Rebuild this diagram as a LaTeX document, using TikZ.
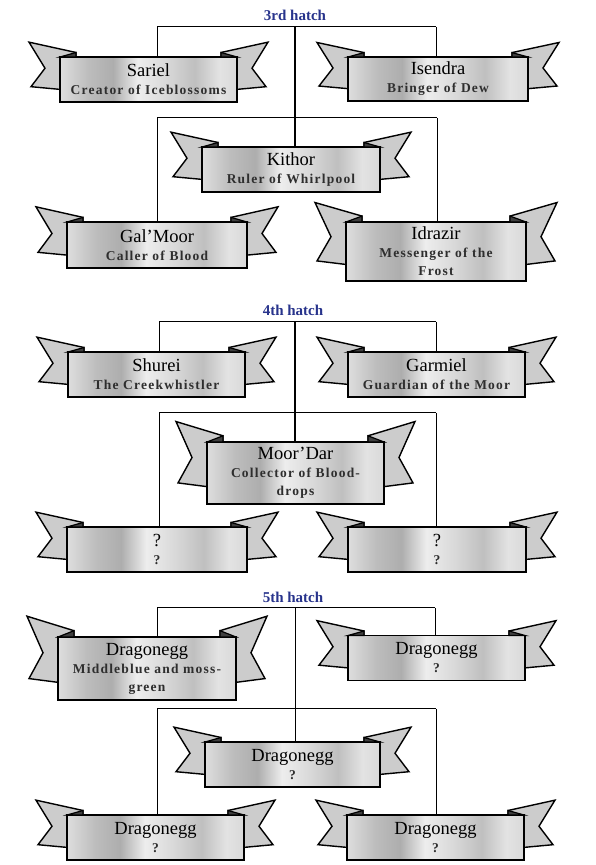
\documentclass[tikz,border=0pt]{standalone}
\usepackage{fontspec}
\setmainfont{Liberation Serif}
\newfontfamily\bnSubFont[LetterSpace=9]{Liberation Serif}
\usetikzlibrary{calc}
\pgfdeclarelayer{back}
\pgfsetlayers{back,main}
\pgfdeclarehorizontalshading{metal}{100bp}{rgb(0bp)=(.87,.87,.87); rgb(25bp)=(.87,.87,.87); rgb(33bp)=(.74,.74,.74); rgb(40bp)=(.68,.68,.68); rgb(47bp)=(.93,.93,.93); rgb(55bp)=(.85,.85,.85); rgb(63bp)=(.75,.75,.75); rgb(70bp)=(.89,.89,.89); rgb(75bp)=(.85,.85,.85); rgb(100bp)=(.85,.85,.85)}
\definecolor{hatchblue}{RGB}{40,52,140}
\newcommand\bnName[1]{{\fontsize{18.5}{18}\selectfont #1}}
\newcommand\bnSub[1]{{\color{black!82}\bnSubFont\bfseries\fontsize{13.5}{18}\selectfont #1}}
\newcommand\bnTail[2]{%
  \path[bntail] ({-#1-31},{#2/2+0.33*#2}) -- ({-#1+16},{#2/2+0.1*#2}) -- ({-#1+16},{#2/2-0.72*#2}) -- ({-#1},{#2/2-0.72*#2}) -- ({-#1-29},{#2/2-0.66*#2}) -- ({-#1-15},{#2/2-0.25*#2}) -- cycle;}
\newcommand\bnFold[2]{%
  \path[bnfold] ({-#1},{#2/2}) -- ({-#1+16},{#2/2+0.1*#2}) -- ({-#1+16},{#2/2}) -- cycle;}
\newcommand\banner[6]{%
  \begin{scope}[shift={(#2,{865-#3})}]
    \bnTail{#4/2}{#5}
    \begin{scope}[xscale=-1]\bnTail{#4/2}{#5}\end{scope}
    \node[bnbox, minimum width=#4pt, minimum height=#5pt] (#1) at (0,0) {#6};
    \bnFold{#4/2}{#5}
    \begin{scope}[xscale=-1]\bnFold{#4/2}{#5}\end{scope}
  \end{scope}}
\begin{document}
\begin{tikzpicture}[x=1pt,y=1pt,
  bntail/.style={draw=black, fill=black!20, line width=1.4pt, line join=miter},
  bnfold/.style={draw=black, fill=black!75, line width=1.2pt, line join=miter},
  bnbox/.style={draw=black, line width=1.8pt, shade, shading=metal, align=center, inner sep=0pt, font=\fontsize{13.5}{18}\selectfont},
  hatchtitle/.style={text=hatchblue, font=\fontsize{15}{16}\selectfont\bfseries, inner sep=1pt},
  conn/.style={draw=black, line width=1pt},
  trunk/.style={draw=black, line width=1.7pt}]
\useasboundingbox (0,0) rectangle (596,865);

% ---------- 3rd hatch ----------
\node[hatchtitle] (t3) at (295,850) {3rd hatch};
\banner{sariel}{148.5}{79.5}{177}{45}{\bnName{Sariel}\\\bnSub{Creator of Iceblossoms}}
\banner{isendra}{438}{79}{180}{44}{\bnName{Isendra}\\\bnSub{Bringer of Dew}}
\banner{kithor}{291}{169.5}{178}{45}{\bnName{Kithor}\\\bnSub{Ruler of Whirlpool}}
\banner{galmoor}{157}{245}{180}{46}{\bnName{Gal'Moor}\\\bnSub{Caller of Blood}}
\banner{idrazir}{436}{251.5}{180}{59}{\bnName{Idrazir}\\\bnSub{Messenger of the}\\\bnSub{Frost}}

% ---------- 4th hatch ----------
\node[hatchtitle] (t4) at (293,555) {4th hatch};
\banner{shurei}{156.5}{374.5}{177}{45}{\bnName{Shurei}\\\bnSub{The Creekwhistler}}
\banner{garmiel}{436.5}{374.5}{177}{45}{\bnName{Garmiel}\\\bnSub{Guardian of the Moor}}
\banner{moordar}{295.5}{473}{177}{62}{\bnName{Moor'Dar}\\\bnSub{Collector of Blood-}\\\bnSub{drops}}
\banner{qa}{157}{549.5}{180}{45}{\bnName{?}\\\bnSub{?}}
\banner{qb}{437}{549.5}{178}{45}{\bnName{?}\\\bnSub{?}}

% ---------- 5th hatch ----------
\node[hatchtitle] (t5) at (293,268) {5th hatch};
\banner{dleft}{147}{668.5}{178}{63}{\bnName{Dragonegg}\\\bnSub{Middleblue and moss-}\\\bnSub{green}}
\banner{dright}{436.5}{658}{177}{45}{\bnName{Dragonegg}\\\bnSub{?}}
\banner{dmid}{292.5}{764.5}{175}{45}{\bnName{Dragonegg}\\\bnSub{?}}
\banner{dbl}{155.5}{837.5}{177}{45}{\bnName{Dragonegg}\\\bnSub{?}}
\banner{dbr}{435.5}{837.5}{177}{45}{\bnName{Dragonegg}\\\bnSub{?}}

\begin{pgfonlayer}{back}
  \fill[white] (0,0) rectangle (596,865);
  % 3rd hatch connectors
  \coordinate (a3l) at (157,838); \coordinate (a3c) at (295,838); \coordinate (a3r) at (436,838);
  \coordinate (b3l) at (157,747); \coordinate (b3r) at (437,747);
  \draw[conn] (a3l) -- (a3r);
  \draw[conn] (a3l) -- (a3l |- sariel.north);
  \draw[conn] (a3r) -- (a3r |- isendra.north);
  \draw[trunk] (a3c) -- (a3c |- kithor.north);
  \draw[conn] (b3l) -- (b3r);
  \draw[conn] (b3l) -- (b3l |- galmoor.north);
  \draw[conn] (b3r) -- (b3r |- idrazir.north);
  % 4th hatch connectors
  \coordinate (a4l) at (159,543); \coordinate (a4c) at (295,543); \coordinate (a4r) at (436,543);
  \coordinate (b4l) at (159,452); \coordinate (b4r) at (436,452);
  \draw[conn] (a4l) -- (a4r);
  \draw[conn] (a4l) -- (a4l |- shurei.north);
  \draw[conn] (a4r) -- (a4r |- garmiel.north);
  \draw[trunk] (a4c) -- (a4c |- moordar.north);
  \draw[conn] (b4l) -- (b4r);
  \draw[conn] (b4l) -- (b4l |- qa.north);
  \draw[conn] (b4r) -- (b4r |- qb.north);
  % 5th hatch connectors
  \coordinate (a5l) at (157,257); \coordinate (a5c) at (295,257); \coordinate (a5r) at (435,257);
  \coordinate (b5l) at (157,156); \coordinate (b5r) at (436,156);
  \draw[conn] (a5l) -- (a5r);
  \draw[conn] (a5l) -- (a5l |- dleft.north);
  \draw[conn] (a5r) -- (a5r |- dright.north);
  \draw[conn] (a5c) -- (a5c |- dmid.north);
  \draw[conn] (b5l) -- (b5r);
  \draw[conn] (b5l) -- (b5l |- dbl.north);
  \draw[conn] (b5r) -- (b5r |- dbr.north);
\end{pgfonlayer}
\end{tikzpicture}
\end{document}
